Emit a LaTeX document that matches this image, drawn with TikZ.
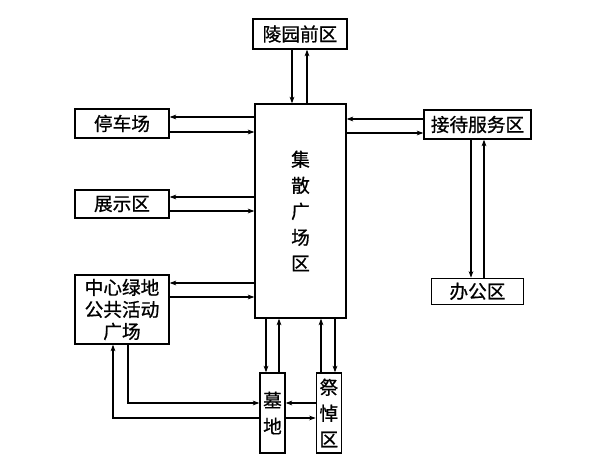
\documentclass[tikz,border=0pt]{standalone}
\usepackage{fontspec}
\setmainfont{Noto Sans CJK SC}[FakeBold=0.8]
\usetikzlibrary{positioning,arrows.meta}

\tikzset{
  zone/.style={draw,line width=1pt,inner sep=0pt,align=center,
    font=\fontsize{14}{16.5}\selectfont},
  tall/.style={zone,font=\fontsize{14}{19.5}\selectfont},
  arr/.style={line width=0.8pt,-{Stealth[length=5pt,width=3.6pt]}}
}

\begin{document}
\begin{tikzpicture}[x=0.75pt,y=-0.75pt]
		\useasboundingbox (0,0) rectangle (590,471);
		% zones
		\node[zone,minimum width=70.5pt,minimum height=22.5pt] (qian) at (300,34) {陵园前区};
		\node[tall,minimum width=68.25pt,minimum height=160.5pt] (c) at (300.5,211) {集\\散\\广\\场\\区};
		\node[zone,minimum width=70.5pt,minimum height=21.75pt] (park) at (122,123.5) {停车场};
		\node[zone,minimum width=70.5pt,minimum height=21pt] (show) at (122,204) {展示区};
		\node[zone,minimum width=70.5pt,minimum height=51.75pt] (green) at (122,309.5) {中心绿地\\公共活动\\广场};
		\node[zone,minimum width=80.25pt,minimum height=21.75pt] (recep) at (477.5,124.5) {接待服务区};
		\node[zone,minimum width=69pt,minimum height=19.5pt,below=103.5pt of recep] (office) {办公区};
		\node[tall,minimum width=18.75pt,minimum height=60pt] (tomb) at (272.5,413) {墓\\地};
		\node[tall,minimum width=18.75pt,minimum height=60pt,right=22.5pt of tomb] (ji) {祭\\悼\\区};
		%
		\draw[arr] (qian.south -| 292,0) -- (c.north -| 292,0);
		\draw[arr] (c.north -| 307,0) -- (qian.south -| 307,0);
		\draw[arr] (c.west |- 0,117) -- (park.east |- 0,117);
		\draw[arr] (park.east |- 0,132) -- (c.west |- 0,132);
		\draw[arr] (c.west |- 0,197) -- (show.east |- 0,197);
		\draw[arr] (show.east |- 0,211) -- (c.west |- 0,211);
		\draw[arr] (c.west |- 0,283) -- (green.east |- 0,283);
		\draw[arr] (green.east |- 0,297) -- (c.west |- 0,297);
		\draw[arr] (recep.west |- 0,119) -- (c.east |- 0,119);
		\draw[arr] (c.east |- 0,133) -- (recep.west |- 0,133);
		\draw[arr] (recep.south -| 471,0) -- (office.north -| 471,0);
		\draw[arr] (office.north -| 484,0) -- (recep.south -| 484,0);
		\draw[arr] (c.south -| 266,0) -- (tomb.north -| 266,0);
		\draw[arr] (tomb.north -| 279,0) -- (c.south -| 279,0);
		\draw[arr] (ji.north -| 321,0) -- (c.south -| 321,0);
		\draw[arr] (c.south -| 335,0) -- (ji.north -| 335,0);
		\draw[arr] (green.south -| 128,0) |- (tomb.west |- 0,403);
		\draw[arr] (tomb.west |- 0,418) -| (green.south -| 113,0);
		\draw[arr] (ji.west |- 0,403) -- (tomb.east |- 0,403);
		\draw[arr] (tomb.east |- 0,418) -- (ji.west |- 0,418);
\end{tikzpicture}
\end{document}
